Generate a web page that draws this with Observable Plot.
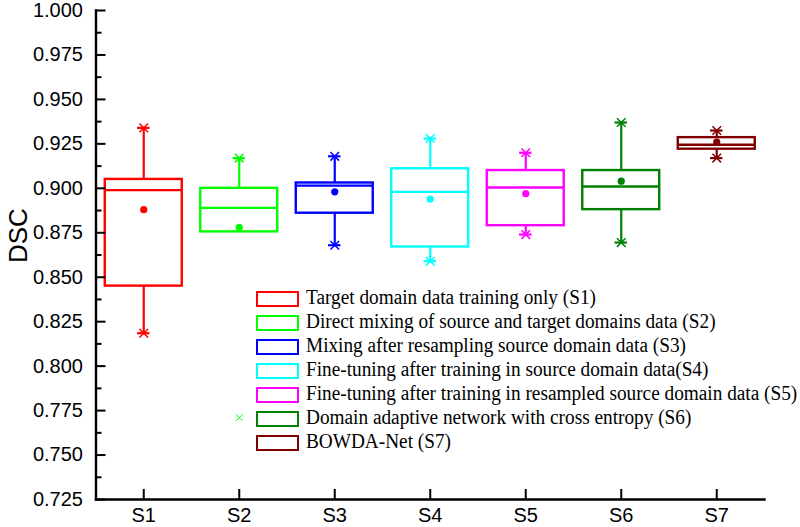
<!DOCTYPE html>
<html>
<head>
<meta charset="utf-8">
<script src="https://cdn.jsdelivr.net/npm/d3@7"></script>
<script src="https://cdn.jsdelivr.net/npm/@observablehq/plot@0.6"></script>
<style>
  html, body { margin: 0; padding: 0; background: #fff; }
  #wrap { position: relative; width: 800px; height: 527px; overflow: hidden; }
  #legend { position: absolute; left: 256px; top: 290px; font-family: "Liberation Serif", "Times New Roman", serif; font-size: 20.5px; color: #000; }
  .row { position: absolute; left: 0; height: 24px; white-space: nowrap; }
  .sw { position: absolute; left: 0; top: 1px; width: 39px; height: 12px; border: 2px solid; background: #fff; }
  .lb { position: absolute; left: 50px; top: -5px; line-height: 24px; transform: scaleX(0.94); transform-origin: 0 50%; }
</style>
</head>
<body>
<div id="wrap"></div>
<script>
const categories = ["S1", "S2", "S3", "S4", "S5", "S6", "S7"];
const colors = ["#ff0000", "#00ff00", "#0000ff", "#00ffff", "#ff00ff", "#008000", "#800000"];
const whiskerHigh = [0.934, 0.917, 0.918, 0.928, 0.920, 0.937, 0.9325];
const q3 = [0.905, 0.900, 0.903, 0.911, 0.910, 0.910, 0.9285];
const median = [0.899, 0.889, 0.9015, 0.898, 0.9005, 0.901, 0.9245];
const mean = [0.888, 0.878, 0.898, 0.894, 0.897, 0.904, 0.926];
const q1 = [0.845, 0.8755, 0.886, 0.867, 0.879, 0.888, 0.922];
const whiskerLow = [0.8185, null, 0.868, 0.859, 0.874, 0.8695, 0.917];
const outlierCategory = ["S2"];
const outlierValue = [0.771];
const legendLabels = [
  "Target domain data training only (S1)",
  "Direct mixing of source and target domains data (S2)",
  "Mixing after resampling source domain data (S3)",
  "Fine-tuning after training in source domain data(S4)",
  "Fine-tuning after training in resampled source domain data (S5)",
  "Domain adaptive network with cross entropy (S6)",
  "BOWDA-Net (S7)"
];
const yTicks = [0.725, 0.75, 0.775, 0.8, 0.825, 0.85, 0.875, 0.9, 0.925, 0.95, 0.975, 1.0];

const boxes = categories.map((c, i) => ({
  cat: c, pos: i + 1, color: colors[i],
  hi: whiskerHigh[i], q3: q3[i], med: median[i], mean: mean[i], q1: q1[i], lo: whiskerLow[i]
}));
const lowBoxes = boxes.filter(d => d.lo != null);
const outliers = outlierCategory.map((c, i) => ({
  pos: categories.indexOf(c) + 1, value: outlierValue[i], color: colors[categories.indexOf(c)]
}));
const minorTicks = yTicks.slice(0, -1).map((t, i) => (t + yTicks[i + 1]) / 2);

const hw = 0.403;   // box half width
const cw = 0.065;   // cap half width

const chart = Plot.plot({
  width: 800,
  height: 527,
  marginLeft: 95.5,
  marginRight: 36,
  marginTop: 10,
  marginBottom: 28,
  style: { fontFamily: "Liberation Sans, Arial, sans-serif", background: "#fff", color: "#000", overflow: "visible" },
  x: { domain: [0.5, 7.5], label: null },
  y: { domain: [0.725, 1.0], label: null },
  marks: [
    // whiskers
    Plot.ruleX(boxes, { x: "pos", y1: "q3", y2: "hi", stroke: "color", strokeWidth: 2.2 }),
    Plot.ruleX(lowBoxes, { x: "pos", y1: "q1", y2: "lo", stroke: "color", strokeWidth: 2.2 }),
    // caps
    Plot.ruleY(boxes, { y: "hi", x1: d => d.pos - cw, x2: d => d.pos + cw, stroke: "color", strokeWidth: 2.2 }),
    Plot.ruleY(lowBoxes, { y: "lo", x1: d => d.pos - cw, x2: d => d.pos + cw, stroke: "color", strokeWidth: 2.2 }),
    Plot.dot(boxes, { x: "pos", y: "hi", symbol: "times", r: 4, stroke: "color", strokeWidth: 1.5 }),
    Plot.dot(lowBoxes, { x: "pos", y: "lo", symbol: "times", r: 4, stroke: "color", strokeWidth: 1.5 }),
    // boxes
    Plot.rect(boxes, { x1: d => d.pos - hw, x2: d => d.pos + hw, y1: "q1", y2: "q3", fill: "#fff", stroke: "color", strokeWidth: 2.4 }),
    // medians
    Plot.ruleY(boxes, { y: "med", x1: d => d.pos - hw, x2: d => d.pos + hw, stroke: "color", strokeWidth: 2.4 }),
    // means
    Plot.dot(boxes, { x: "pos", y: "mean", r: 3.6, fill: "color", stroke: "none" }),
    // outliers
    Plot.dot(outliers, { x: "pos", y: "value", symbol: "times", r: 3, stroke: "color", strokeWidth: 1 }),
    // axes
    Plot.axisY({ ticks: yTicks, tickFormat: d3.format(".3f"), tickSize: -10, tickPadding: 23, fontSize: 20, strokeWidth: 2, label: null }),
    Plot.axisY({ ticks: minorTicks, tickFormat: () => "", tickSize: -6, strokeWidth: 2, label: null }),
    Plot.axisX({ ticks: [1, 2, 3, 4, 5, 6, 7], tickFormat: d => categories[d - 1], tickSize: -10, tickPadding: 18, fontSize: 20, strokeWidth: 2, label: null }),
    Plot.frame({ anchor: "left", strokeWidth: 2.4 }),
    Plot.frame({ anchor: "bottom", strokeWidth: 2.4 }),
    Plot.text(["DSC"], { frameAnchor: "left", rotate: -90, dx: -77, dy: 8, fontSize: 26, text: d => d })
  ]
});

const wrap = document.getElementById("wrap");
wrap.appendChild(chart);
const legend = document.createElement("div");
legend.id = "legend";
legendLabels.forEach((t, i) => {
  const row = document.createElement("div");
  row.className = "row";
  row.style.top = (i * 24) + "px";
  const sw = document.createElement("div");
  sw.className = "sw";
  sw.style.borderColor = colors[i];
  const lb = document.createElement("div");
  lb.className = "lb";
  lb.textContent = t;
  row.appendChild(sw);
  row.appendChild(lb);
  legend.appendChild(row);
});
wrap.appendChild(legend);
</script>
</body>
</html>
